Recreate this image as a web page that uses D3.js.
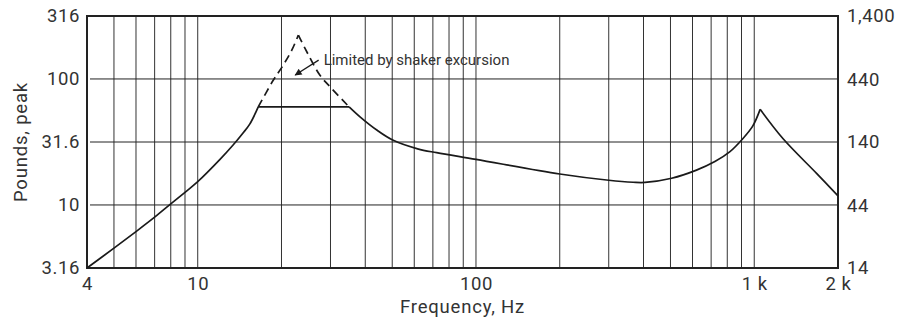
<!DOCTYPE html>
<html>
<head>
<meta charset="utf-8">
<script src="https://cdn.jsdelivr.net/npm/d3@7"></script>
<style>
  body { margin: 0; background: #fff; }
  svg text { font-family: Roboto, "Open Sans", sans-serif; fill: #333; }
</style>
</head>
<body>
<svg id="chart" width="898" height="323"></svg>
<script>
// rising solid part, up to where the plateau starts
const riseFreq = [4, 5, 6, 7, 8, 9, 10, 12, 13.4, 14.5, 15.4, 16.5];
const riseLbs  = [3.16, 4.54, 6.15, 8.0, 10.2, 12.6, 15.3, 22.9, 29.9, 36.9, 44, 60];

// dashed triangle ("limited by shaker excursion"), split at its peak
const dashUpFreq = [16.5, 18.7, 20.3, 21.8, 23];
const dashUpLbs  = [60, 98, 129, 170, 223];
const dashDownFreq = [23, 24.3, 27.5, 30.3, 35];
const dashDownLbs  = [223, 175, 107, 84, 60];

// flat limit line
const plateauFreq = [16.5, 35];
const plateauLbs  = [60, 60];

// solid part after the plateau, up to the resonance near 1 kHz
const midFreq = [35, 38.3, 44, 50.4, 61.7, 72.2, 100, 200, 300, 367, 405, 505, 620, 722, 818, 901, 986, 1050];
const midLbs  = [60, 50, 39.3, 32.6, 27.9, 26, 23, 17.6, 15.7, 15.15, 15.1, 16.3, 18.9, 22.1, 26.5, 32.8, 42, 57.4];

// falling part after the resonance
const fallFreq = [1050, 1270, 1675, 2000];
const fallLbs  = [57.4, 33.5, 17.8, 11.8];

// axes
const xTickVals = [4, 10, 100, 1000, 2000];
const xTickLabels = ["4", "10", "100", "1 k", "2 k"];
const yTickVals = [3.16, 10, 31.6, 100, 316];
const yTickLabels = ["3.16", "10", "31.6", "100", "316"];
const yRightVals = [14, 44, 140, 440, 1400];

// annotation (data units)
const noteText = "Limited by shaker excursion";
const noteTail = [27.2, 141];
const noteTip = [22.4, 107.5];

const svg = d3.select("#chart");
const margin = {top: 16, right: 60, bottom: 55, left: 87};
const width = 898 - margin.left - margin.right;
const height = 323 - margin.top - margin.bottom;

const g = svg.append("g").attr("transform", `translate(${margin.left},${margin.top})`);

const x = d3.scaleLog().domain([4, 2000]).range([0, width]);
const y = d3.scaleLog().domain([3.16, 316]).range([height, 0]);
const yRight = d3.scaleLog().domain([14, 1400]).range([height, 0]);

// vertical grid (every 1-9 step per decade)
const gridFreqs = x.ticks().filter(d => d > 4 && d < 2000);
g.append("g")
    .attr("class", "grid-x")
    .selectAll("line")
    .data(gridFreqs)
    .join("line")
    .attr("x1", d => x(d))
    .attr("x2", d => x(d))
    .attr("y1", 0)
    .attr("y2", height)
    .attr("stroke", "#333")
    .attr("stroke-width", 1);

// horizontal grid
g.append("g")
    .attr("class", "grid-y")
    .selectAll("line")
    .data(yTickVals.slice(1, -1))
    .join("line")
    .attr("x1", 3)
    .attr("x2", width)
    .attr("y1", d => y(d))
    .attr("y2", d => y(d))
    .attr("stroke", "#222")
    .attr("stroke-width", 1);

// axes
const xAxis = d3.axisBottom(x)
    .tickValues(xTickVals)
    .tickFormat((d, i) => xTickLabels[i])
    .tickSize(0)
    .tickPadding(9);
const yAxis = d3.axisLeft(y)
    .tickValues(yTickVals)
    .tickFormat((d, i) => yTickLabels[i])
    .tickSize(0)
    .tickPadding(7);
const yAxisR = d3.axisRight(yRight)
    .tickValues(yRightVals)
    .tickFormat(d3.format(","))
    .tickSize(0)
    .tickPadding(9);

g.append("g").attr("transform", `translate(0,${height})`).call(xAxis);
g.append("g").call(yAxis);
g.append("g").attr("transform", `translate(${width},0)`).call(yAxisR);

g.selectAll(".tick text")
    .style("font-size", "18.5px")
    .style("letter-spacing", "0.6px")
    .attr("fill", "#333");
g.selectAll(".domain").remove();

// frame
g.append("rect")
    .attr("width", width)
    .attr("height", height)
    .attr("fill", "none")
    .attr("stroke", "#222")
    .attr("stroke-width", 2);

// curves
const line = d3.line()
    .x(d => x(d[0]))
    .y(d => y(d[1]))
    .curve(d3.curveCatmullRom.alpha(0.5));

const zip = (a, b) => a.map((d, i) => [d, b[i]]);

const solid = [
    zip(riseFreq, riseLbs),
    zip(plateauFreq, plateauLbs),
    zip(midFreq, midLbs),
    zip(fallFreq, fallLbs)
];
const dashed = [
    zip(dashUpFreq, dashUpLbs),
    zip(dashDownFreq, dashDownLbs)
];

g.selectAll(".solid")
    .data(solid)
    .join("path")
    .attr("class", "solid")
    .attr("d", line)
    .attr("fill", "none")
    .attr("stroke", "#1a1a1a")
    .attr("stroke-width", 1.7);

g.selectAll(".dashed")
    .data(dashed)
    .join("path")
    .attr("class", "dashed")
    .attr("d", line)
    .attr("fill", "none")
    .attr("stroke", "#1a1a1a")
    .attr("stroke-width", 1.7)
    .attr("stroke-dasharray", "8,5");

// annotation arrow
svg.append("defs").append("marker")
    .attr("id", "arrow")
    .attr("viewBox", "0 0 10 10")
    .attr("refX", 9)
    .attr("refY", 5)
    .attr("markerWidth", 10)
    .attr("markerHeight", 7)
    .attr("markerUnits", "userSpaceOnUse")
    .attr("orient", "auto")
    .append("path")
    .attr("d", "M0,0 L10,5 L0,10 z")
    .attr("fill", "#1a1a1a");

g.append("line")
    .attr("x1", x(noteTail[0]))
    .attr("y1", y(noteTail[1]))
    .attr("x2", x(noteTip[0]))
    .attr("y2", y(noteTip[1]))
    .attr("stroke", "#1a1a1a")
    .attr("stroke-width", 1.3)
    .attr("marker-end", "url(#arrow)");

g.append("text")
    .attr("x", x(noteTail[0]) + 5)
    .attr("y", y(noteTail[1]) + 5)
    .style("font-size", "15px")
    .text(noteText);

// axis titles
svg.append("text")
    .attr("x", margin.left + width / 2)
    .attr("y", 313)
    .attr("text-anchor", "middle")
    .style("font-size", "18.5px")
    .style("letter-spacing", "0.8px")
    .text("Frequency, Hz");

svg.append("text")
    .attr("transform", `translate(27,${margin.top + height / 2}) rotate(-90)`)
    .attr("text-anchor", "middle")
    .style("font-size", "18.5px")
    .style("letter-spacing", "0.8px")
    .text("Pounds, peak");
</script>
</body>
</html>
